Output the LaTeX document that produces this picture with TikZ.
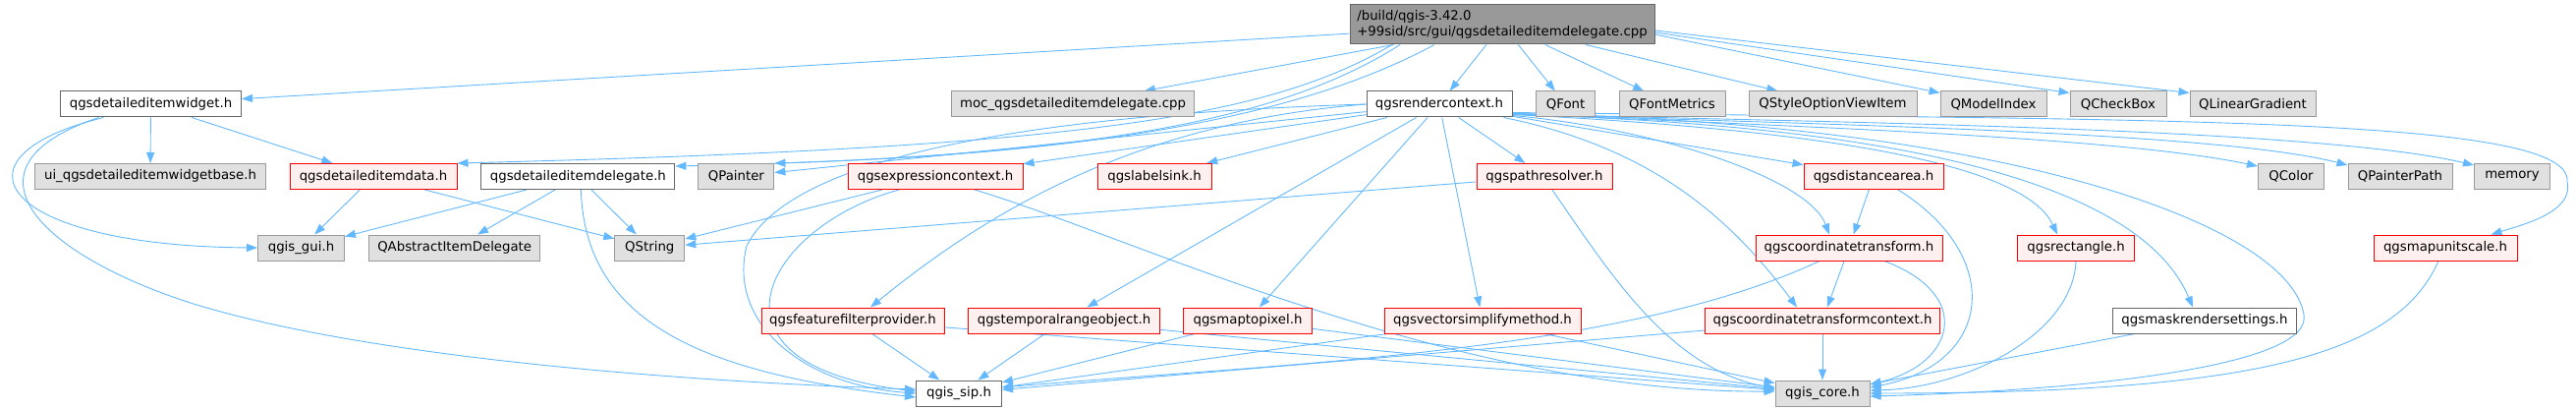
\documentclass[tikz,border=0pt]{standalone}
\usepackage{fontspec}
\setmainfont{DejaVu Sans}
\usetikzlibrary{arrows.meta,backgrounds}
\definecolor{edgeblue}{RGB}{99,184,255}
\definecolor{extfill}{RGB}{224,224,224}
\definecolor{extline}{RGB}{153,153,153}
\definecolor{fileline}{RGB}{102,102,102}
\definecolor{truncfill}{RGB}{255,240,240}
\definecolor{truncline}{RGB}{255,0,0}
\definecolor{mainfill}{RGB}{153,153,153}

\begin{document}
\begin{tikzpicture}[x=1pt, y=-1pt,
    file/.style={draw=fileline, fill=white, line width=1pt, minimum height=26pt,
        inner xsep=2pt, inner ysep=0pt, font=\fontsize{13.3}{16}\selectfont},
    ext/.style={file, draw=extline, fill=extfill},
    trunc/.style={file, draw=truncline, fill=truncfill},
    mainfile/.style={file, fill=mainfill, minimum height=40pt, align=left},
    dep/.style={edgeblue, line width=0.9pt, -{Triangle[length=11pt, width=8pt]}}]
    \useasboundingbox (0, 0) rectangle (2622, 417);
    % Source file
    \node[mainfile, minimum width=310pt] (cpp) at (1529, 25) {/build/qgis-3.42.0\\+99sid/src/gui/qgsdetaileditemdelegate.cpp};
    % First row
    \node[file, minimum width=184pt] (widget) at (153.5, 106) {qgsdetaileditemwidget.h};
    \node[ext, minimum width=247pt] (moc) at (1092, 106) {moc\_qgsdetaileditemdelegate.cpp};
    \node[file, minimum width=148pt] (rctx) at (1465, 106) {qgsrendercontext.h};
    \node[ext, minimum width=60pt] (qfont) at (1593.6, 106) {QFont};
    \node[ext, minimum width=108pt] (qfontmetrics) at (1702, 106) {QFontMetrics};
    \node[ext, minimum width=171pt] (qstyleopt) at (1865.5, 106) {QStyleOptionViewItem};
    \node[ext, minimum width=108pt] (qmodelindex) at (2029, 106) {QModelIndex};
    \node[ext, minimum width=98pt] (qcheckbox) at (2156, 106) {QCheckBox};
    \node[ext, minimum width=128pt] (qlineargradient) at (2293, 106) {QLinearGradient};
    % Second row
    \node[ext, minimum width=235pt] (uibase) at (153, 179.5) {ui\_qgsdetaileditemwidgetbase.h};
    \node[trunc, minimum width=170pt] (itemdata) at (380, 179.5) {qgsdetaileditemdata.h};
    \node[file, minimum width=197pt] (delegate) at (588.4, 179.5) {qgsdetaileditemdelegate.h};
    \node[ext, minimum width=77pt] (qpainter) at (749.4, 179.5) {QPainter};
    \node[trunc, minimum width=178pt] (exprctx) at (952, 179.5) {qgsexpressioncontext.h};
    \node[trunc, minimum width=116pt] (labelsink) at (1175, 179.5) {qgslabelsink.h};
    \node[trunc, minimum width=138pt] (pathresolver) at (1572, 179.5) {qgspathresolver.h};
    \node[trunc, minimum width=142pt] (distarea) at (1907, 179.5) {qgsdistancearea.h};
    \node[ext, minimum width=67pt] (qcolor) at (2332, 179.5) {QColor};
    \node[ext, minimum width=106pt] (qpainterpath) at (2443, 179.5) {QPainterPath};
    \node[ext, minimum width=77pt] (memory) at (2557, 179.5) {memory};
    % Third row
    \node[ext, minimum width=88pt] (qgisgui) at (306.5, 252) {qgis\_gui.h};
    \node[ext, minimum width=174pt] (qabstractdelegate) at (462.7, 252) {QAbstractItemDelegate};
    \node[ext, minimum width=71pt] (qstring) at (661.3, 252) {QString};
    \node[trunc, minimum width=190pt] (coordtr) at (1882, 252) {qgscoordinatetransform.h};
    \node[trunc, minimum width=119pt] (rectangle) at (2113, 252) {qgsrectangle.h};
    \node[trunc, minimum width=146pt] (mapunitscale) at (2489, 252) {qgsmapunitscale.h};
    % Fourth row
    \node[trunc, minimum width=186pt] (featurefilter) at (868, 326) {qgsfeaturefilterprovider.h};
    \node[trunc, minimum width=195pt] (temporal) at (1083, 326) {qgstemporalrangeobject.h};
    \node[trunc, minimum width=131pt] (maptopixel) at (1270, 326) {qgsmaptopixel.h};
    \node[trunc, minimum width=200pt] (vecsimplify) at (1509, 326) {qgsvectorsimplifymethod.h};
    \node[trunc, minimum width=239pt] (coordtrctx) at (1855, 326) {qgscoordinatetransformcontext.h};
    \node[file, minimum width=187pt] (maskrender) at (2244, 326) {qgsmaskrendersettings.h};
    % Bottom row
    \node[file, minimum width=87pt] (qgissip) at (976, 400) {qgis\_sip.h};
    \node[ext, minimum width=96pt] (qgiscore) at (1855, 400) {qgis\_core.h};

    \begin{scope}[on background layer]
        % Includes of the source file
        \draw[dep] (cpp) -- (widget);
        \draw[dep] (cpp) -- (moc);
        \draw[dep] (cpp) -- (rctx);
        \draw[dep] (cpp) -- (qfont);
        \draw[dep] (cpp) -- (qfontmetrics);
        \draw[dep] (cpp) -- (qstyleopt);
        \draw[dep] ([yshift=-10pt]cpp.east) -- ([yshift=-2pt]qmodelindex.north west);
        \draw[dep] ([yshift=-8pt]cpp.east) -- ([yshift=-2pt]qcheckbox.north west);
        \draw[dep] ([yshift=-6pt]cpp.east) -- ([yshift=-2pt]qlineargradient.north west);
        \draw[dep] ([xshift=-112pt]cpp.south) .. controls (1290, 120) and (1100, 150) .. (itemdata.north east);
        \draw[dep] ([xshift=-104pt]cpp.south) .. controls (1300, 125) and (1100, 160) .. ([yshift=-3pt]delegate.north east);
        \draw[dep] ([xshift=-69pt]cpp.south) .. controls (1340, 110) and (1150, 155) .. (qpainter.north east);
        % Widget, data and delegate headers
        \draw[dep] (widget) -- (uibase);
        \draw[dep] (widget) -- (itemdata);
        \draw[dep] ([xshift=-48pt]widget.south) .. controls (-60, 160) and (0, 250) .. (qgisgui.west);
        \draw[dep] ([xshift=-53pt]widget.south) .. controls (-50, 170) and (40, 260) .. (200, 310)
            .. controls (400, 370) and (750, 390) .. ([yshift=4pt]qgissip.west);
        \draw[dep] (itemdata) -- (qgisgui);
        \draw[dep] (itemdata) -- (qstring);
        \draw[dep] (delegate) -- (qgisgui);
        \draw[dep] (delegate) -- (qabstractdelegate);
        \draw[dep] (delegate) -- (qstring);
        \draw[dep] ([xshift=3pt]delegate.south) .. controls (595, 330) and (720, 380) .. ([yshift=-4pt]qgissip.west);
        % Render context
        \draw[dep] (rctx) -- (qpainter);
        \draw[dep] (rctx) -- (exprctx);
        \draw[dep] (rctx) -- (labelsink);
        \draw[dep] (rctx) -- (pathresolver);
        \draw[dep] (rctx) -- (temporal);
        \draw[dep] (rctx) -- (maptopixel);
        \draw[dep] (rctx) -- (vecsimplify);
        \draw[dep] (rctx) -- (distarea);
        \draw[dep] (rctx.west) .. controls (1150, 125) and (1000, 220) .. ([xshift=18pt]featurefilter.north);
        \draw[dep] (rctx.west) .. controls (1000, 118) and (800, 170) .. (760, 250)
            .. controls (740, 330) and (820, 392) .. (qgissip.west);
        \draw[dep] ([yshift=4pt]rctx.south east) .. controls (1800, 128) and (2150, 138) .. ([yshift=-3pt]qcolor.north west);
        \draw[dep] ([yshift=4pt]rctx.south east) .. controls (1800, 126) and (2250, 132) .. ([yshift=-2pt]qpainterpath.north west);
        \draw[dep] ([yshift=4pt]rctx.south east) .. controls (1800, 124) and (2350, 128) .. ([yshift=-2pt]memory.north west);
        \draw[dep] ([yshift=5pt]rctx.south east) .. controls (2200, 122) and (2620, 118) .. (2613, 185)
            .. controls (2620, 215) and (2570, 228) .. ([xshift=-27pt]mapunitscale.north east);
        \draw[dep] ([yshift=2pt]rctx.south east) .. controls (1680, 130) and (1840, 180) .. ([xshift=-20pt]coordtr.north);
        \draw[dep] ([xshift=-9pt]rctx.south east) .. controls (1680, 150) and (1760, 220) .. ([xshift=-26pt]coordtrctx.north);
        \draw[dep] ([yshift=3pt]rctx.south east) .. controls (1850, 132) and (2060, 165) .. ([xshift=-19pt]rectangle.north);
        \draw[dep] ([yshift=3pt]rctx.south east) .. controls (1950, 128) and (2180, 190) .. ([xshift=-12pt]maskrender.north);
        \draw[dep] ([yshift=4pt]rctx.south east) .. controls (2050, 125) and (2330, 230) .. (2345, 320)
            .. controls (2355, 375) and (2100, 398) .. ([yshift=-3pt]qgiscore.east);
        % Second row headers
        \draw[dep] (exprctx) -- (qstring);
        \draw[dep] ([xshift=-37pt]exprctx.south) .. controls (780, 230) and (700, 370) .. ([yshift=2pt]qgissip.west);
        \draw[dep] ([xshift=40pt]exprctx.south) .. controls (1150, 240) and (1480, 400) .. ([yshift=2pt]qgiscore.west);
        \draw[dep] (pathresolver) -- (qstring);
        \draw[dep] ([xshift=8pt]pathresolver.south) .. controls (1640, 280) and (1700, 375) .. ([yshift=5pt]qgiscore.west);
        \draw[dep] (distarea) -- (coordtr);
        \draw[dep] ([xshift=25pt]distarea.south) .. controls (2040, 260) and (2030, 370) .. ([yshift=6pt]qgiscore.east);
        % Third row headers
        \draw[dep] (coordtr) -- (coordtrctx);
        \draw[dep] ([xshift=36pt]coordtr.south) .. controls (2010, 300) and (1990, 370) .. ([yshift=9pt]qgiscore.east);
        \draw[dep] ([xshift=-30pt]coordtr.south) .. controls (1650, 360) and (1300, 370) .. ([yshift=6pt]qgissip.east);
        \draw[dep] (rectangle.south) .. controls (2110, 340) and (2000, 395) .. ([yshift=3pt]qgiscore.east);
        \draw[dep] ([xshift=-7pt]mapunitscale.south) .. controls (2440, 360) and (2300, 400) .. (qgiscore.east);
        % Fourth row headers
        \draw[dep] (featurefilter) -- (qgissip);
        \draw[dep] (featurefilter) -- (qgiscore);
        \draw[dep] (temporal) -- (qgissip);
        \draw[dep] (temporal) -- (qgiscore);
        \draw[dep] (maptopixel) -- (qgissip);
        \draw[dep] (maptopixel) -- (qgiscore);
        \draw[dep] (vecsimplify) -- (qgissip);
        \draw[dep] (vecsimplify) -- (qgiscore);
        \draw[dep] (coordtrctx) -- (qgissip);
        \draw[dep] (coordtrctx) -- (qgiscore);
        \draw[dep] (maskrender) -- (qgiscore);
    \end{scope}
\end{tikzpicture}
\end{document}
